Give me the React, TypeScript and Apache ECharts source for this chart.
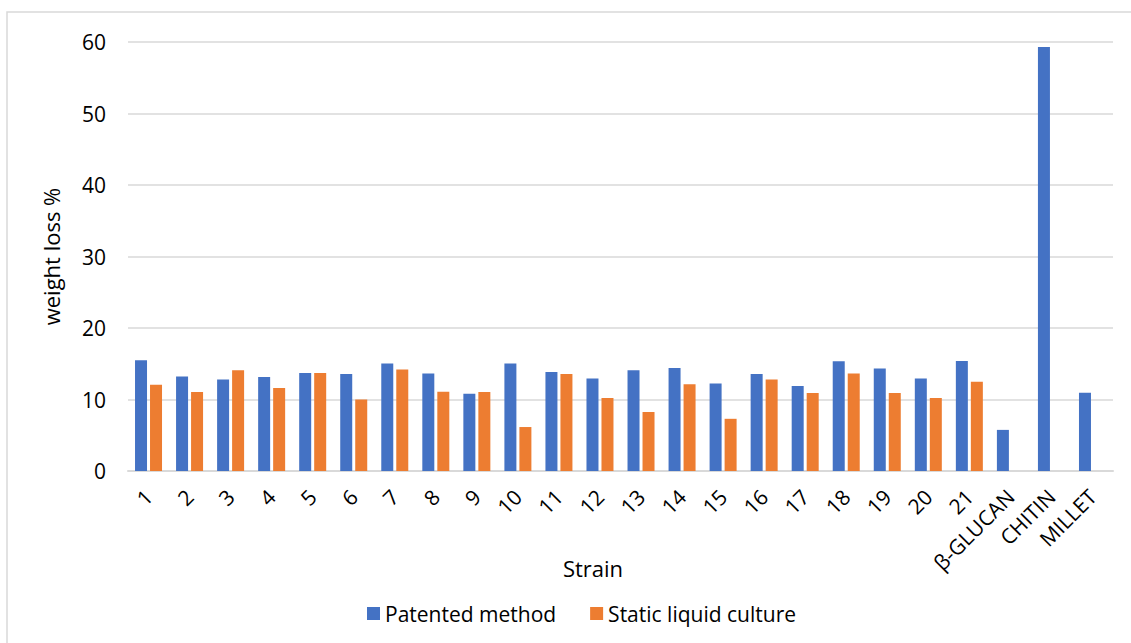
import React, { useEffect, useRef } from "react";
import * as echarts from "echarts";

const categories = ["1","2","3","4","5","6","7","8","9","10","11","12","13","14","15","16","17","18","19","20","21","β-GLUCAN","CHITIN","MILLET"];
const patentedMethod = [15.5,13.2,12.8,13.15,13.7,13.55,15.05,13.65,10.8,15.05,13.85,12.95,14.1,14.4,12.25,13.55,11.9,15.35,14.35,12.95,15.4,5.75,59.3,10.95];
const staticLiquidCulture: (number | null)[] = [12.05,11.05,14.1,11.6,13.7,10.0,14.2,11.1,11.05,6.15,13.55,10.2,8.25,12.15,7.3,12.8,10.9,13.65,10.9,10.2,12.5,null,null,null];
const yTicks = { min: 0, max: 60, interval: 10 };
const xTitle = "Strain";
const yTitle = "weight loss %";

const FONT = "'Open Sans', 'Noto Sans', sans-serif";

export default function App() {
  const ref = useRef<HTMLDivElement>(null);
  useEffect(() => {
    if (!ref.current) return;
    const chart = echarts.init(ref.current, undefined, { renderer: "svg" });
    chart.setOption({
      animation: false,
      textStyle: { fontFamily: FONT },
      graphic: [
        {
          type: "rect",
          shape: { x: 7, y: 12, width: 1300, height: 800 },
          style: { fill: "none", stroke: "#d9d9d9", lineWidth: 1.5 },
          silent: true,
        },
        {
          type: "text",
          x: 593,
          y: 568,
          style: {
            text: xTitle,
            fill: "#000",
            font: `22px ${FONT}`,
            align: "center",
            verticalAlign: "middle",
          },
          silent: true,
        },
      ],
      grid: { left: 128, right: 18, top: 42, bottom: 172, containLabel: false },
      legend: {
        left: 362,
        top: 598,
        itemWidth: 13,
        itemHeight: 13,
        itemGap: 34,
        icon: "rect",
        textStyle: { fontFamily: FONT, fontSize: 21, color: "#000" },
        data: ["Patented method", "Static liquid culture"],
      },
      xAxis: {
        type: "category",
        data: categories,
        axisLine: { show: true, lineStyle: { color: "#d9d9d9", width: 2 } },
        axisTick: { show: false },
        axisLabel: {
          rotate: 45,
          interval: 0,
          margin: 22,
          fontFamily: FONT,
          fontSize: 21,
          color: "#000",
        },
      },
      yAxis: {
        type: "value",
        min: yTicks.min,
        max: yTicks.max,
        interval: yTicks.interval,
        name: yTitle,
        nameLocation: "middle",
        nameGap: 66,
        nameTextStyle: { fontFamily: FONT, fontSize: 22, color: "#000" },
        axisLine: { show: false },
        axisTick: { show: false },
        axisLabel: { margin: 22, fontFamily: FONT, fontSize: 21, color: "#000" },
        splitLine: { lineStyle: { color: "#d9d9d9", width: 1.5 } },
      },
      series: [
        {
          name: "Patented method",
          type: "bar",
          data: patentedMethod,
          barWidth: 12,
          barGap: "25%",
          itemStyle: { color: "#4472C4" },
        },
        {
          name: "Static liquid culture",
          type: "bar",
          data: staticLiquidCulture,
          barWidth: 12,
          barGap: "25%",
          itemStyle: { color: "#ED7D31" },
        },
      ],
    });
    return () => chart.dispose();
  }, []);
  return <div ref={ref} style={{ width: 1131, height: 643, position: "absolute", left: 0, top: 0 }} />;
}
